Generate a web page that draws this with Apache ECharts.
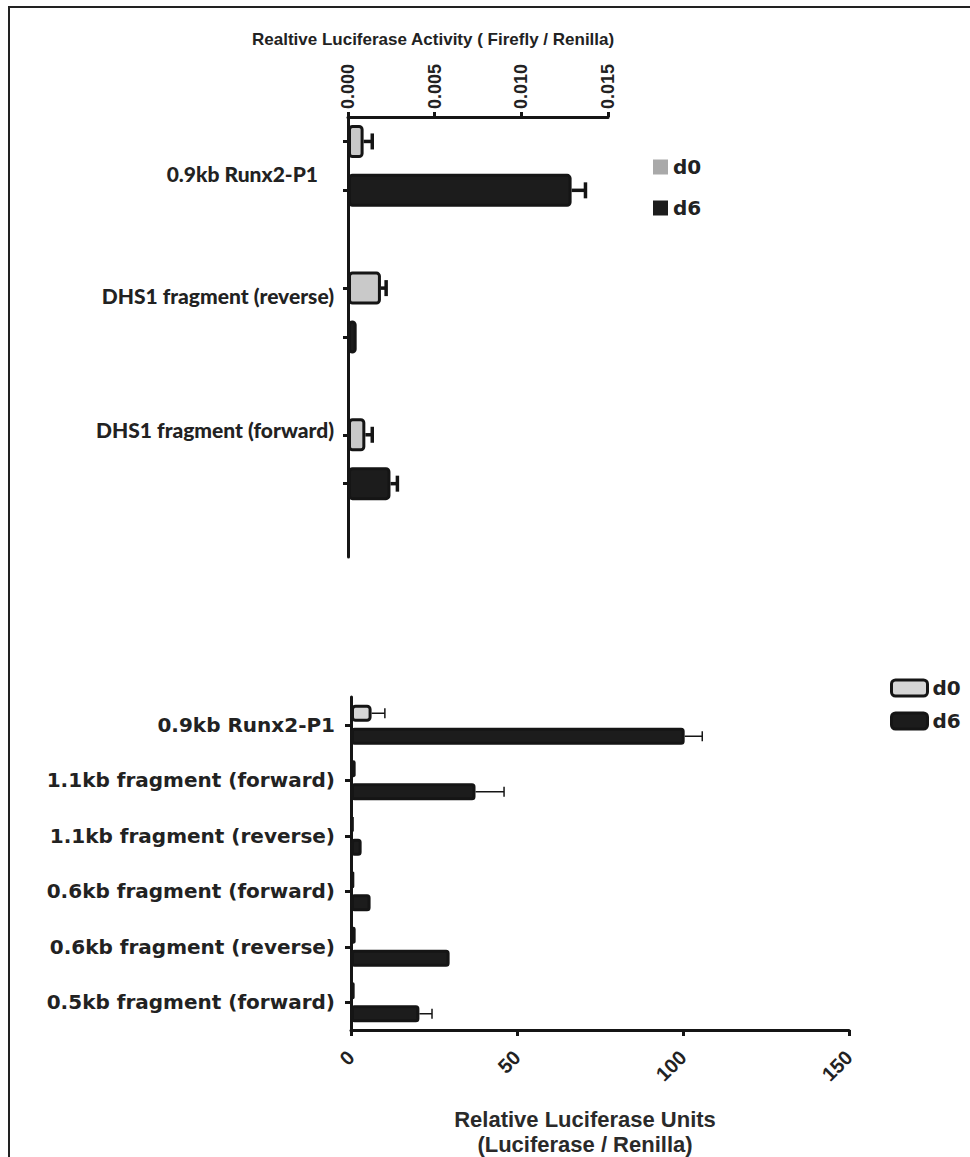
<!DOCTYPE html>
<html>
<head>
<meta charset="utf-8">
<script src="https://cdn.jsdelivr.net/npm/echarts@6/dist/echarts.min.js"></script>
<style>
  html, body { margin: 0; padding: 0; background: #fff; }
  #chart { width: 970px; height: 1157px; }
</style>
</head>
<body>
<div id="chart"></div>
<script>
// ---- Upper panel: DHS1 fragment reporter (Firefly / Renilla) ----
const topCategories = ['0.9kb Runx2-P1', 'DHS1 fragment (reverse)', 'DHS1 fragment (forward)'];
const topD0 = [0.0009, 0.0019, 0.0010];
const topD0Err = [0.0005, 0.0003, 0.0004];
const topD6 = [0.0129, 0.0005, 0.00245];
const topD6Err = [0.0008, 0, 0.0004];
const topTicks = [0, 0.005, 0.010, 0.015];

// ---- Lower panel: Runx2-P1 fragment reporters ----
const bottomCategories = [
  '0.9kb Runx2-P1',
  '1.1kb fragment (forward)',
  '1.1kb fragment (reverse)',
  '0.6kb fragment (forward)',
  '0.6kb fragment (reverse)',
  '0.5kb fragment (forward)'
];
const bottomD0 = [6.2, 1.4, 0.8, 1.0, 1.4, 1.1];
const bottomD0Err = [4.0, 0, 0, 0, 0, 0];
const bottomD6 = [100.5, 37.5, 3.2, 5.9, 29.7, 20.6];
const bottomD6Err = [5.3, 8.6, 0, 0, 0, 3.8];
const bottomTicks = [0, 50, 100, 150];

// Upper panel places each bar in its own slot: d0, d6, then an empty spacer slot.
const SLOTS = 3;
const topSlotNames = [];
const topD0Slots = [];
const topD6Slots = [];
topCategories.forEach((c, i) => {
  topSlotNames.push(c + '#d0', c + '#d6', c + '#gap');
  topD0Slots.push(topD0[i], '-', '-');
  topD6Slots.push('-', topD6[i], '-');
});

const INK = '#151515';
const TEXT = '#222';

function errorBars(axisIdx, values, errs, catOf, offsetPx, capLen, lw) {
  const data = [];
  values.forEach((v, i) => { if (errs[i] > 0) data.push([v, catOf(i), errs[i]]); });
  return {
    type: 'custom',
    xAxisIndex: axisIdx,
    yAxisIndex: axisIdx,
    silent: true,
    z: 5,
    encode: { x: 0, y: 1 },
    data: data,
    renderItem: function (params, api) {
      const v = api.value(0), s = api.value(1), e = api.value(2);
      const a = api.coord([v, s]);
      const b = api.coord([v + e, s]);
      const y = a[1] + offsetPx;
      const st = { stroke: INK, lineWidth: lw };
      return {
        type: 'group',
        children: [
          { type: 'line', shape: { x1: a[0], y1: y, x2: b[0], y2: y }, style: st },
          { type: 'line', shape: { x1: b[0], y1: y - capLen / 2, x2: b[0], y2: y + capLen / 2 }, style: st }
        ]
      };
    }
  };
}

const topLabelFont = { fontFamily: 'Lato', fontWeight: 900, fontSize: 21, color: TEXT };

const option = {
  backgroundColor: '#fff',
  animation: false,
  title: {
    text: 'Realtive Luciferase Activity ( Firefly / Renilla)',
    left: 252,
    top: 31,
    padding: 0,
    textStyle: { fontFamily: 'Liberation Sans', fontWeight: 'bold', fontSize: 17, color: TEXT }
  },
  graphic: [
    {
      type: 'rect',
      silent: true,
      shape: { x: 9, y: 7, width: 1000, height: 1200 },
      style: { fill: 'none', stroke: '#222', lineWidth: 2 }
    },
    {
      type: 'text',
      silent: true,
      x: 585,
      y: 1132,
      style: {
        text: 'Relative Luciferase Units\n(Luciferase / Renilla)',
        font: 'bold 22px "Liberation Sans"',
        fill: '#2a2a2a',
        align: 'center',
        verticalAlign: 'middle',
        textAlign: 'center',
        textVerticalAlign: 'middle',
        lineHeight: 25
      }
    }
  ],
  legend: [
    {
      data: [
        { name: 'd0', itemStyle: { color: '#a9a9a9', borderWidth: 0 } },
        { name: 'd6', itemStyle: { color: '#1c1c1c', borderWidth: 0 } }
      ],
      orient: 'vertical',
      left: 648,
      top: 152,
      itemWidth: 15,
      itemHeight: 15,
      itemGap: 21,
      icon: 'rect',
      selectedMode: false,
      textStyle: { fontFamily: 'DejaVu Sans', fontWeight: 'bold', fontSize: 20, color: TEXT }
    },
    {
      data: [
        { name: 'd0', itemStyle: { color: '#d6d6d6', borderColor: INK, borderWidth: 3 } },
        { name: 'd6', itemStyle: { color: '#1c1c1c', borderColor: INK, borderWidth: 3 } }
      ],
      orient: 'vertical',
      left: 885,
      top: 673,
      itemWidth: 36,
      itemHeight: 16,
      itemGap: 13,
      icon: 'roundRect',
      selectedMode: false,
      textStyle: { fontFamily: 'DejaVu Sans', fontWeight: 'bold', fontSize: 20, color: TEXT }
    }
  ],
  grid: [
    { left: 348, top: 117, width: 260, height: 440 },
    { left: 351, top: 697, width: 498, height: 333 }
  ],
  xAxis: [
    {
      gridIndex: 0,
      type: 'value',
      position: 'top',
      min: topTicks[0],
      max: topTicks[topTicks.length - 1],
      interval: topTicks[1] - topTicks[0],
      splitLine: { show: false },
      axisLine: { show: true, lineStyle: { color: INK, width: 3 } },
      axisTick: { show: true, length: 5, lineStyle: { color: INK, width: 3 } },
      axisLabel: {
        rotate: -90,
        margin: 8,
        formatter: v => v.toFixed(3),
        fontFamily: 'Liberation Sans',
        fontWeight: 'bold',
        fontSize: 18,
        color: TEXT
      }
    },
    {
      gridIndex: 1,
      type: 'value',
      position: 'bottom',
      min: bottomTicks[0],
      max: bottomTicks[bottomTicks.length - 1],
      interval: bottomTicks[1] - bottomTicks[0],
      splitLine: { show: false },
      axisLine: { show: true, lineStyle: { color: INK, width: 3 } },
      axisTick: { show: true, length: 6, lineStyle: { color: INK, width: 3 } },
      axisLabel: {
        rotate: 45,
        margin: 24,
        fontFamily: 'Liberation Sans',
        fontWeight: 'bold',
        fontSize: 20,
        color: TEXT
      }
    }
  ],
  yAxis: [
    {
      gridIndex: 0,
      type: 'category',
      inverse: true,
      data: topSlotNames,
      axisLine: { show: true, onZero: false, lineStyle: { color: INK, width: 3 } },
      axisTick: {
        show: true,
        alignWithLabel: true,
        interval: i => i % SLOTS !== 2,
        length: 5,
        lineStyle: { color: INK, width: 3 }
      },
      axisLabel: {
        interval: 0,
        margin: 14,
        formatter: (val, idx) => idx % SLOTS === 0 ? '{s' + (idx / SLOTS) + '|' + topCategories[idx / SLOTS] + '}' : '',
        rich: {
          s0: Object.assign({ padding: [64, 16, 0, 0] }, topLabelFont),
          s1: Object.assign({ padding: [14, 0, 0, 0] }, topLabelFont),
          s2: Object.assign({ padding: [0, 0, 10, 0] }, topLabelFont)
        }
      }
    },
    {
      gridIndex: 1,
      type: 'category',
      inverse: true,
      data: bottomCategories,
      axisLine: { show: true, onZero: false, lineStyle: { color: INK, width: 3 } },
      axisTick: { show: true, alignWithLabel: true, length: 6, lineStyle: { color: INK, width: 3 } },
      axisLabel: {
        interval: 0,
        margin: 16,
        fontFamily: 'DejaVu Sans',
        fontWeight: 'bold',
        fontSize: 20,
        color: TEXT
      }
    }
  ],
  series: [
    {
      type: 'bar', name: 'd0', xAxisIndex: 0, yAxisIndex: 0,
      data: topD0Slots, barWidth: 33, barGap: '-100%',
      itemStyle: { color: '#c9c9c9', borderColor: INK, borderWidth: 3, borderRadius: 3 }
    },
    {
      type: 'bar', name: 'd6', xAxisIndex: 0, yAxisIndex: 0,
      data: topD6Slots, barWidth: 33, barGap: '-100%',
      itemStyle: { color: '#1c1c1c', borderColor: INK, borderWidth: 3, borderRadius: 3 }
    },
    errorBars(0, topD0, topD0Err, i => topSlotNames[i * SLOTS], 0, 16, 3.5),
    errorBars(0, topD6, topD6Err, i => topSlotNames[i * SLOTS + 1], 0, 16, 3.5),
    {
      type: 'bar', name: 'd0', xAxisIndex: 1, yAxisIndex: 1,
      data: bottomD0, barWidth: 17, barGap: '35%',
      itemStyle: { color: '#d6d6d6', borderColor: INK, borderWidth: 3, borderRadius: 3 }
    },
    {
      type: 'bar', name: 'd6', xAxisIndex: 1, yAxisIndex: 1,
      data: bottomD6, barWidth: 17, barGap: '35%',
      itemStyle: { color: '#1c1c1c', borderColor: INK, borderWidth: 3, borderRadius: 2 }
    },
    errorBars(1, bottomD0, bottomD0Err, i => bottomCategories[i], -11.5, 10, 1.5),
    errorBars(1, bottomD6, bottomD6Err, i => bottomCategories[i], 11.5, 10, 1.5)
  ]
};

const chart = echarts.init(document.getElementById('chart'), null, { renderer: 'svg' });
chart.setOption(option);
</script>
</body>
</html>
